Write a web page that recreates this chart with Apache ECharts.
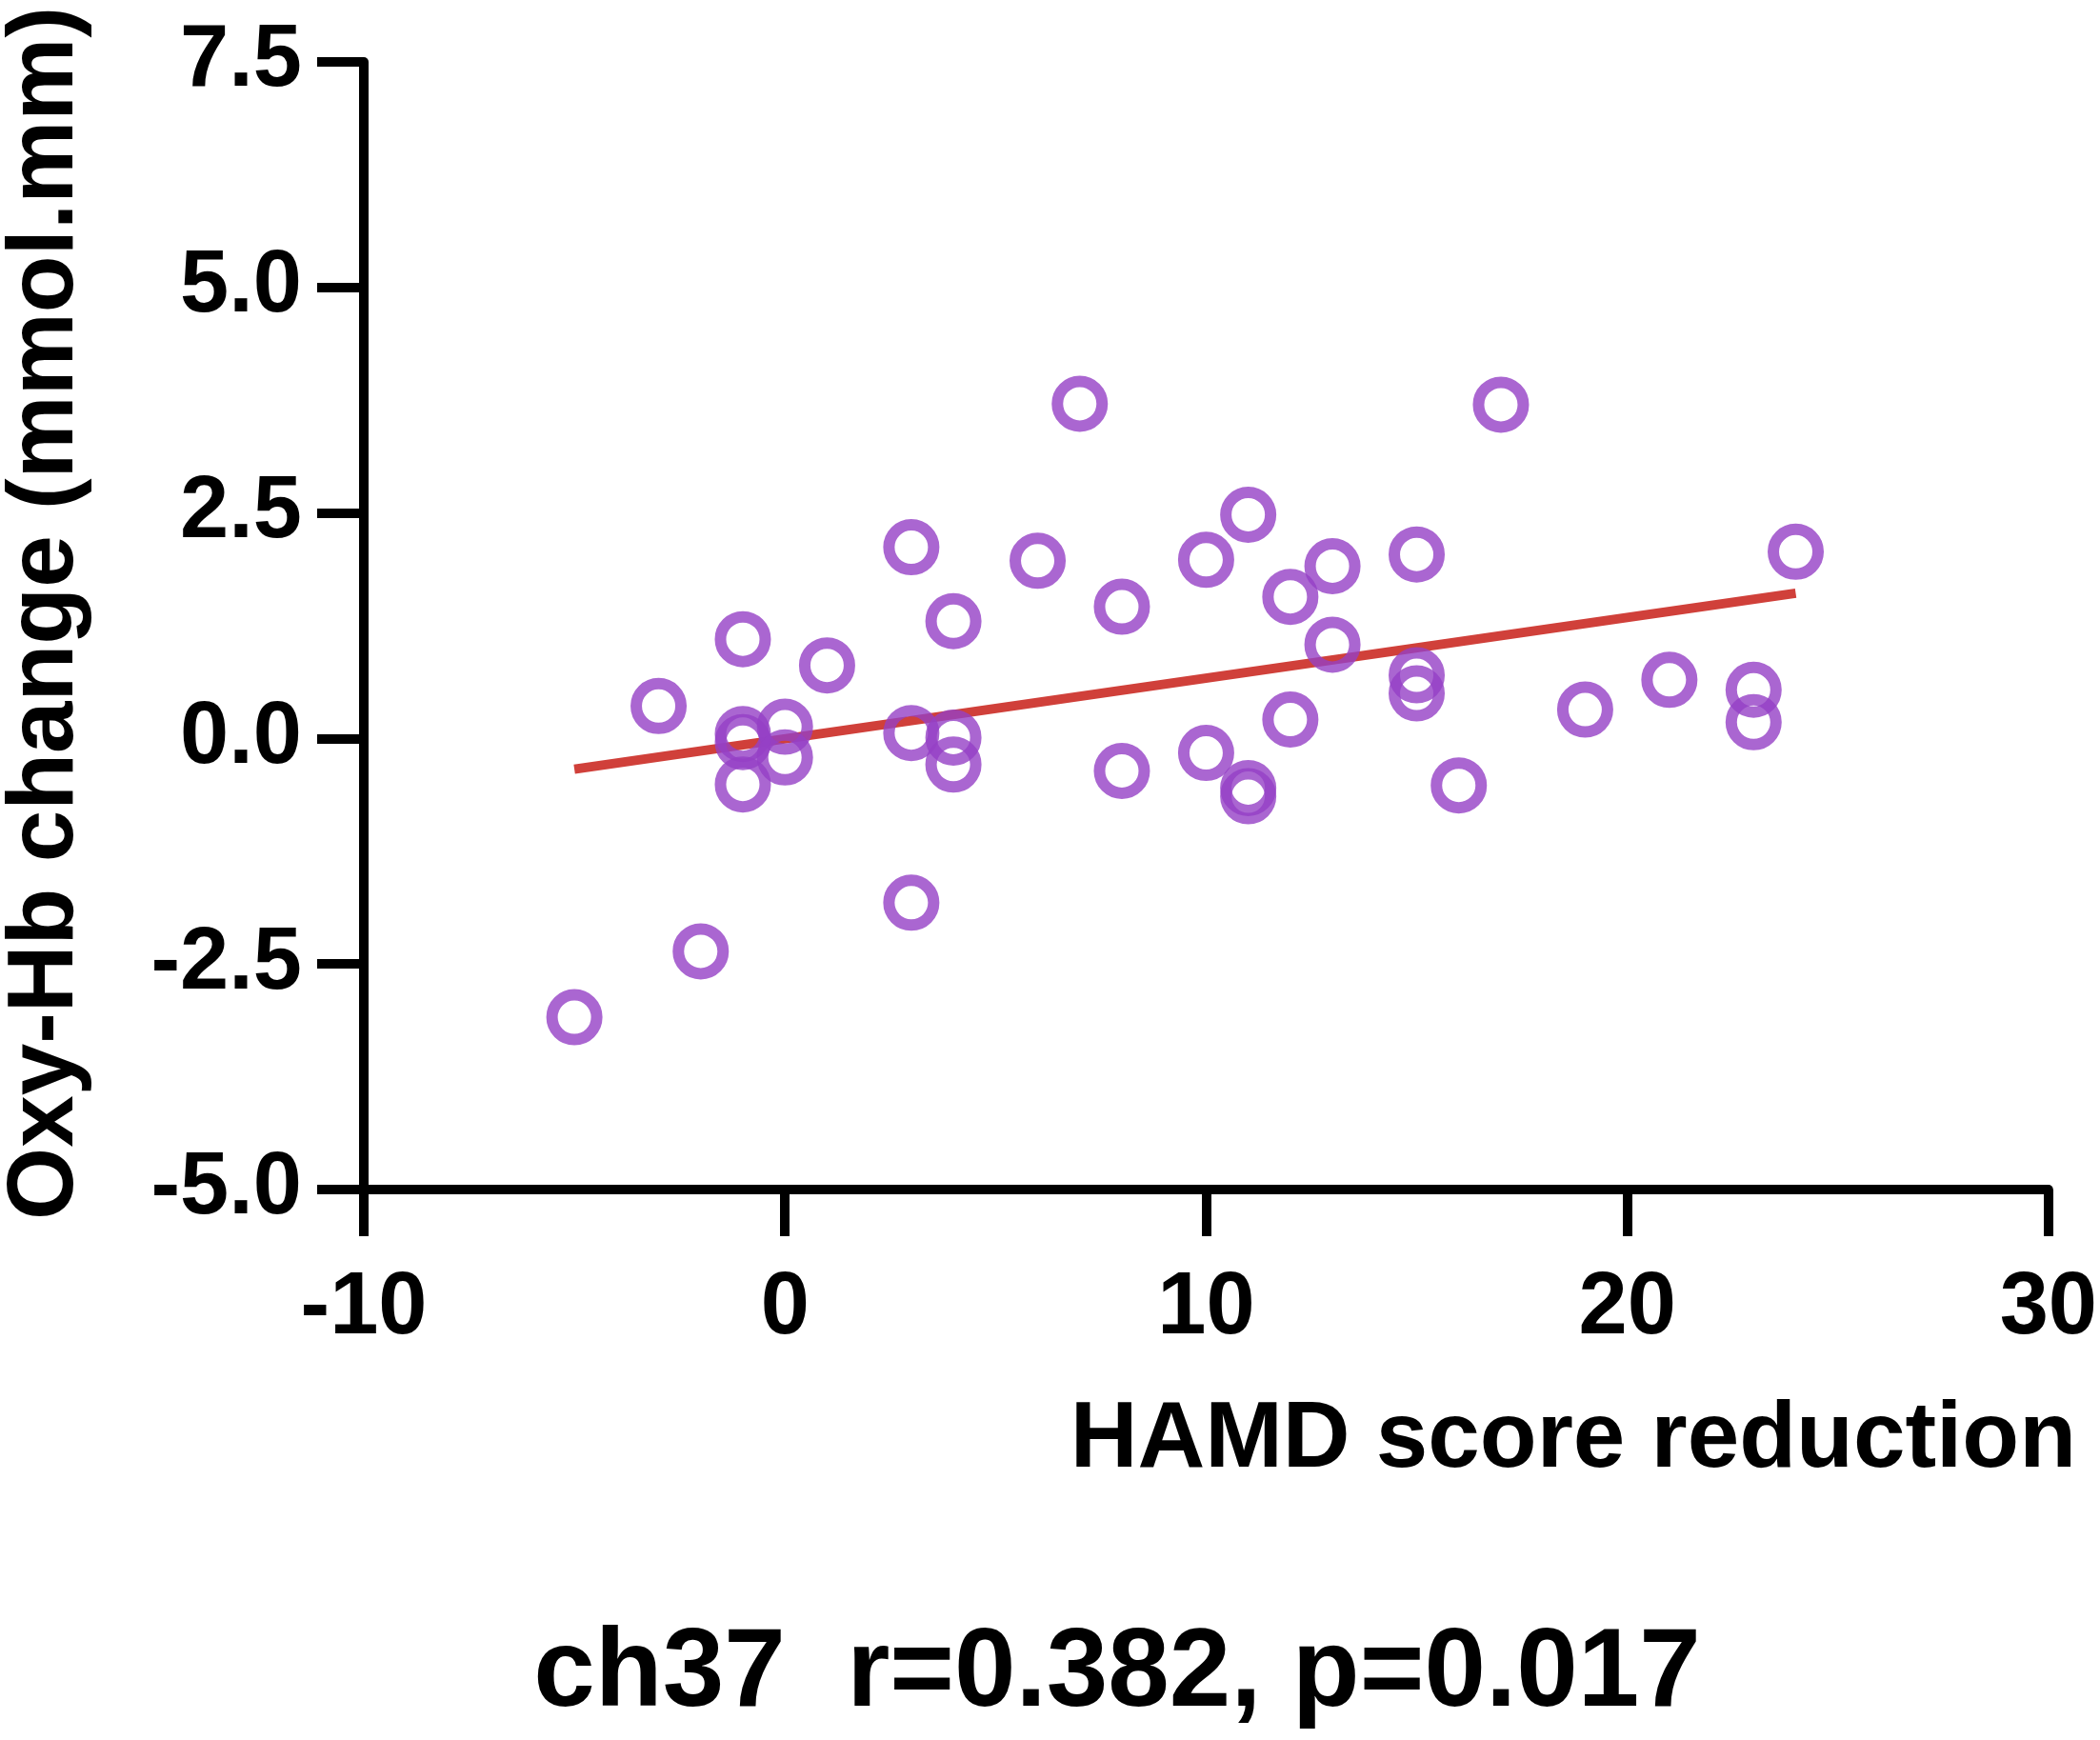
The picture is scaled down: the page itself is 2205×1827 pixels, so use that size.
<!DOCTYPE html>
<html>
<head>
<meta charset="utf-8">
<script src="https://cdn.jsdelivr.net/npm/echarts@6/dist/echarts.min.js"></script>
<style>
html,body{margin:0;padding:0;background:#fff;}
#chart{width:2205px;height:1827px;}
</style>
</head>
<body>
<div id="chart"></div>
<script>
// HAMD score reduction (x) and Oxy-Hb change (y)
var hamd = [-5, -3, -2, -1, -1, -1, -1, 0, 0, 1, 3, 3, 3, 4, 4, 4, 6, 7, 8, 8, 10, 10, 11, 11, 11, 12, 12, 13, 13, 15, 15, 15, 16, 17, 19, 21, 23, 23, 24];
var oxy = [-3.09, 0.36, -2.36, 1.10, 0.05, -0.04, -0.51, 0.13, -0.21, 0.81, 2.12, 0.06, -1.82, 1.30, 0.01, -0.29, 1.97, 3.71, 1.46, -0.36, 1.98, -0.16, 2.48, -0.55, -0.64, 1.57, 0.21, 1.91, 1.04, 2.04, 0.70, 0.50, -0.52, 3.70, 0.32, 0.65, 0.54, 0.18, 2.07];
// fitted regression line endpoints
var fitX = [-5, 24];
var fitY = [-0.34, 1.61];
var xTicks = [-10, 0, 10, 20, 30];
var yTicks = [-5.0, -2.5, 0.0, 2.5, 5.0, 7.5];
var xTitle = 'HAMD score reduction';
var yTitle = 'Oxy-Hb change (mmol.mm)';
var caption = 'ch37  r=0.382, p=0.017';

var FONT = '"Liberation Sans", Arial, sans-serif';
var pts = hamd.map(function (v, i) { return [v, oxy[i]]; });
var fit = fitX.map(function (v, i) { return [v, fitY[i]]; });

var chart = echarts.init(document.getElementById('chart'), null, {renderer: 'canvas'});
chart.setOption({
  backgroundColor: '#ffffff',
  animation: false,
  grid: {left: 382, right: 49, top: 65, bottom: 578, containLabel: false},
  xAxis: {
    type: 'value', min: xTicks[0], max: xTicks[xTicks.length - 1], interval: 10,
    splitLine: {show: false},
    axisLine: {show: true, onZero: false, lineStyle: {color: '#000', width: 10}},
    axisTick: {show: true, inside: false, length: 49, lineStyle: {color: '#000', width: 10}},
    axisLabel: {show: true, margin: 80, color: '#000', fontSize: 92, fontWeight: 'bold', fontFamily: FONT,
      formatter: function (v) { return String(v); }}
  },
  yAxis: {
    type: 'value', min: yTicks[0], max: yTicks[yTicks.length - 1], interval: 2.5,
    splitLine: {show: false},
    axisLine: {show: true, onZero: false, lineStyle: {color: '#000', width: 10}},
    axisTick: {show: true, inside: false, length: 49, lineStyle: {color: '#000', width: 10}},
    axisLabel: {show: true, margin: 65, color: '#000', fontSize: 92, fontWeight: 'bold', fontFamily: FONT,
      formatter: function (v) { return v.toFixed(1); }}
  },
  series: [
    {
      type: 'line', data: fit, showSymbol: false, symbol: 'none', z: 2,
      lineStyle: {color: '#D0403A', width: 10}
    },
    {
      type: 'scatter', data: pts, symbol: 'circle', symbolSize: 47, z: 3,
      itemStyle: {color: 'rgba(0,0,0,0)', borderColor: '#9540C6', borderWidth: 12}
    }
  ],
  graphic: [
    {type: 'text', x: 49, y: 644, rotation: Math.PI / 2,
      style: {text: yTitle, font: 'bold 98px ' + FONT, fill: '#000', textAlign: 'center', textVerticalAlign: 'middle'}},
    {type: 'text', x: 2180, y: 1513,
      style: {text: xTitle, font: 'bold 98px ' + FONT, fill: '#000', textAlign: 'right', textVerticalAlign: 'middle'}},
    {type: 'text', x: 1173, y: 1759,
      style: {text: caption, font: 'bold 116px ' + FONT, fill: '#000', textAlign: 'center', textVerticalAlign: 'middle'}}
  ]
});
</script>
</body>
</html>
